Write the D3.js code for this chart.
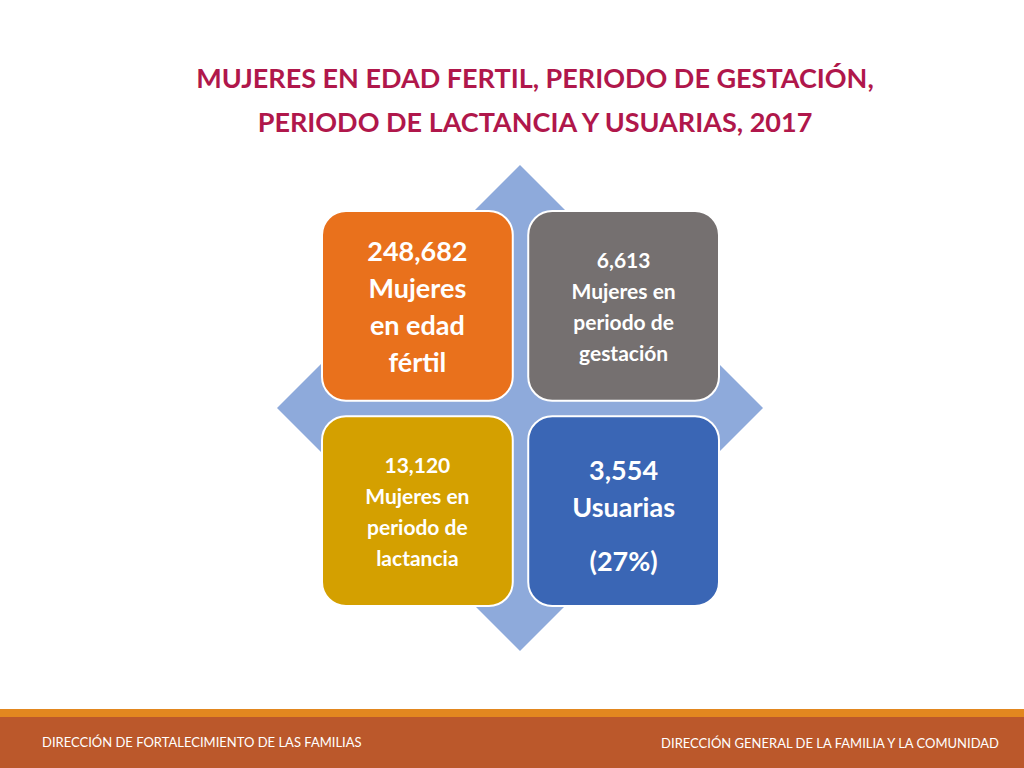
<!DOCTYPE html>
<html><head><meta charset="utf-8">
<script src="https://cdn.jsdelivr.net/npm/d3@7"></script>
<style>body{margin:0;background:#fff}</style></head>
<body><svg id="c" width="1024" height="768"></svg>
<script>
const titleLines = ["MUJERES EN EDAD FERTIL, PERIODO DE GESTACIÓN,", "PERIODO DE LACTANCIA Y USUARIAS, 2017"];
const values = ["248,682", "6,613", "13,120", "3,554"];
const labels = [["Mujeres","en edad","fértil"], ["Mujeres en","periodo de","gestación"], ["Mujeres en","periodo de","lactancia"], ["Usuarias","","(27%)"]];
const colors = ["#e9711c", "#757070", "#d4a000", "#3a66b5"];
const cols = [0,1,0,1], rows = [0,0,1,1];
const footerLeft = "DIRECCIÓN DE FORTALECIMIENTO DE LAS FAMILIAS";
const footerRight = "DIRECCIÓN GENERAL DE LA FAMILIA Y LA COMUNIDAD";

const svg = d3.select("#c");
const F = "Lato, 'Open Sans', sans-serif";
svg.append("g").selectAll("text").data(titleLines).join("text")
  .attr("x",535).attr("y",(d,i)=>88+i*44).attr("text-anchor","middle")
  .attr("font-family",F).attr("font-weight","bold").attr("font-size",27).attr("fill","#b0174b").text(d=>d);

const cx=520, cy=408, r=243;
svg.append("path").attr("d",`M${cx},${cy-r}L${cx+r},${cy}L${cx},${cy+r}L${cx-r},${cy}Z`).attr("fill","#8eaadb");

const x = d3.scaleBand().domain([0,1]).range([322,719]).paddingInner(0.075);
const y = d3.scaleBand().domain([0,1]).range([211,606]).paddingInner(0.075);
const g = svg.append("g").selectAll("g").data(values).join("g")
  .attr("transform",(d,i)=>`translate(${x(cols[i])},${y(rows[i])})`);
g.append("rect").attr("width",x.bandwidth()).attr("height",y.bandwidth()).attr("rx",24)
  .attr("fill",(d,i)=>colors[i]).attr("stroke","#fff").attr("stroke-width",2);
const big = [true,false,false,true];
g.each(function(d,i){
  const s = d3.select(this), w = x.bandwidth();
  const fs = i===0?27:(i===3?27:21);
  const lh = i===0?37:31;
  let lines = [d, ...labels[i]];
  let y0 = i===0?50:(i===3?64:57);
  if(i===3){
    [[d,64],[labels[3][0],101],[labels[3][2],155]].forEach(([t,yy])=>
      s.append("text").attr("x",w/2).attr("y",yy).attr("text-anchor","middle").attr("font-family",F)
       .attr("font-weight","bold").attr("font-size",27).attr("fill","#fff").text(t));
    return;
  }
  lines.forEach((t,k)=>s.append("text").attr("x",w/2).attr("y",y0+k*lh).attr("text-anchor","middle")
    .attr("font-family",F).attr("font-weight","bold").attr("font-size",fs).attr("fill","#fff").text(t));
});

svg.append("rect").attr("x",0).attr("y",709).attr("width",1024).attr("height",8).attr("fill","#e2871f");
svg.append("rect").attr("x",0).attr("y",717).attr("width",1024).attr("height",51).attr("fill","#bb582b");
svg.append("text").attr("x",42).attr("y",747).attr("font-family",F).attr("font-size",13).attr("fill","#fff").text(footerLeft);
svg.append("text").attr("x",999).attr("y",748).attr("text-anchor","end").attr("font-family",F).attr("font-size",13).attr("fill","#fff").text(footerRight);
</script></body></html>
